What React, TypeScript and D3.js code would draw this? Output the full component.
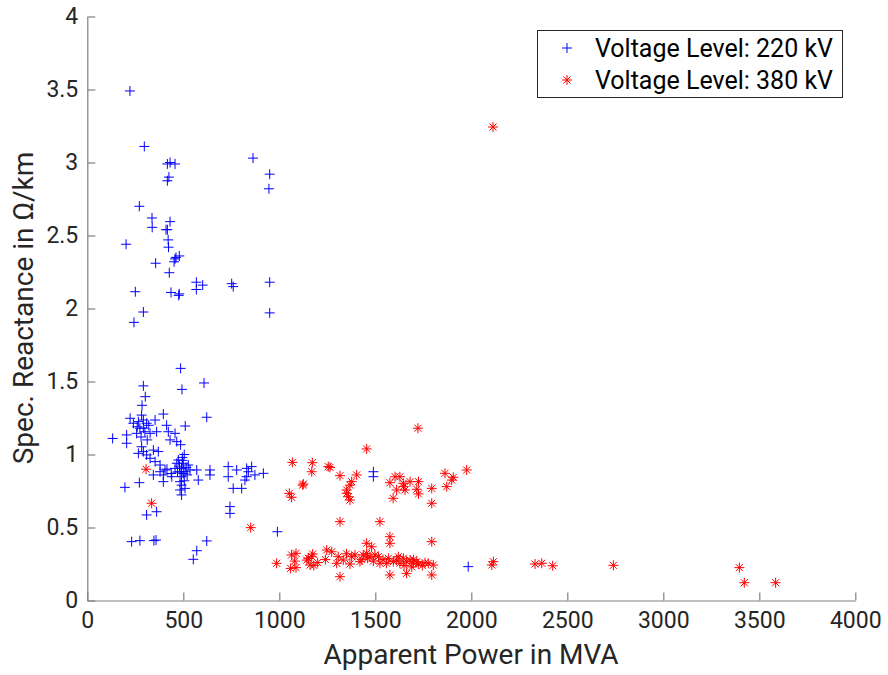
import React, { useEffect, useRef } from "react";
import * as d3 from "d3";

// Voltage Level: 220 kV
const power220 = [222,297,417,431,457,425,417,271,337,338,431,417,410,421,423,202,479,462,863,950,946,457,452,356,427,568,601,568,752,760,950,250,436,479,476,292,243,950,486,292,493,608,302,285,622,396,510,132,223,240,266,292,309,274,257,300,283,353,361,327,413,422,457,431,466,205,205,283,292,266,309,344,370,327,353,379,486,491,466,500,526,483,509,457,535,491,483,509,491,483,491,474,570,578,639,639,405,396,396,344,440,379,196,271,734,734,760,804,778,830,839,873,917,856,821,830,743,309,361,743,231,274,347,358,570,552,622,990,1490,1490,1984,500,480,515,495,470,520,505,495,292,260,320,312,280,437,415,505];
const reactance220 = [3.49,3.11,2.99,3.0,2.99,2.9,2.875,2.7,2.62,2.556,2.595,2.54,2.54,2.47,2.42,2.44,2.36,2.35,3.03,2.92,2.82,2.34,2.32,2.31,2.245,2.18,2.16,2.13,2.17,2.15,2.18,2.115,2.11,2.1,2.09,1.976,1.905,1.97,1.59,1.47,1.446,1.49,1.396,1.337,1.255,1.277,1.195,1.11,1.248,1.214,1.225,1.236,1.214,1.18,1.145,1.156,1.27,1.236,1.156,1.145,1.2,1.156,1.145,1.1,1.088,1.134,1.077,1.053,1.02,1.008,0.997,1.03,1.02,0.974,0.951,0.928,1.067,0.905,0.94,0.94,0.928,0.882,0.882,0.905,0.894,0.848,0.814,0.768,0.79,0.757,0.723,0.962,0.894,0.825,0.894,0.86,0.894,0.86,0.814,0.86,0.848,0.882,0.775,0.807,0.917,0.848,0.768,0.768,0.894,0.905,0.882,0.86,0.871,0.917,0.825,0.848,0.643,0.586,0.608,0.597,0.403,0.41,0.41,0.414,0.341,0.282,0.408,0.471,0.882,0.848,0.232,0.87,0.92,0.91,0.96,0.88,0.86,0.82,0.98,1.18,1.19,1.2,1.1,1.12,0.87,0.9,1.0];

// Voltage Level: 380 kV
const power380 = [2113,306,335,851,1068,1172,1169,1122,1052,1064,1255,986,1064,1087,1059,1087,1151,1174,1160,1247,1455,1125,1264,1316,1403,1377,1368,1351,1360,1368,1351,1603,1576,1628,1646,1681,1725,1716,1725,1611,1655,1593,1646,1794,1794,1863,1906,1898,1872,1976,1316,1524,1455,1481,1576,1576,1794,1143,1169,1273,1307,1333,1377,1394,1437,1455,1472,1498,1516,1524,1568,1594,1628,1663,1698,1724,1776,1802,1316,1576,1663,1794,1299,1368,1420,1559,1611,1646,1681,1716,1759,2115,2107,2332,2367,2424,2740,3396,3422,3585,1722,1460,1490,1540,1650,1700,1745,1620,1350,1240,1200,1430,1690,1180,1080];
const reactance380 = [3.243,0.899,0.666,0.499,0.946,0.944,0.882,0.79,0.734,0.707,0.917,0.255,0.312,0.323,0.22,0.225,0.289,0.318,0.243,0.346,1.038,0.798,0.912,0.855,0.86,0.814,0.79,0.734,0.711,0.688,0.757,0.848,0.807,0.848,0.803,0.814,0.814,0.762,0.73,0.757,0.757,0.7,0.78,0.768,0.666,0.871,0.844,0.825,0.78,0.894,0.54,0.54,0.392,0.368,0.392,0.437,0.403,0.277,0.3,0.334,0.3,0.277,0.3,0.312,0.312,0.323,0.3,0.312,0.3,0.255,0.289,0.266,0.255,0.266,0.255,0.25,0.255,0.243,0.163,0.175,0.186,0.175,0.255,0.25,0.266,0.255,0.277,0.289,0.277,0.266,0.259,0.266,0.243,0.25,0.255,0.238,0.241,0.225,0.122,0.122,1.18,0.29,0.27,0.28,0.24,0.28,0.24,0.3,0.32,0.28,0.26,0.28,0.23,0.24,0.27];

const xTicks = [0, 500, 1000, 1500, 2000, 2500, 3000, 3500, 4000];
const yTicks = [0, 0.5, 1, 1.5, 2, 2.5, 3, 3.5, 4];
const legendLabels = ["Voltage Level: 220 kV", "Voltage Level: 380 kV"];

const W = 888;
const H = 675;
const FONT = "Roboto, 'Noto Sans', sans-serif";
const TEXT_COLOR = "#262626";
const AXIS_COLOR = "#808080";

const plusPath = "M-5,0H5M0,-5V5";
const starPath = "M-5,0H5M0,-5V5M-3.5,-3.5L3.5,3.5M-3.5,3.5L3.5,-3.5";

export default function App() {
  const ref = useRef<SVGSVGElement | null>(null);

  useEffect(() => {
    const svg = d3.select(ref.current);
    svg.selectAll("*").remove();

    const x = d3.scaleLinear().domain([0, 4000]).range([87.3, 855.3]);
    const y = d3.scaleLinear().domain([0, 4]).range([600.5, 16.5]);

    // axes
    const gx = svg.append("g").attr("transform", `translate(0,${y(0)})`)
      .call(d3.axisBottom(x).tickValues(xTicks).tickSizeInner(-8).tickSizeOuter(0).tickPadding(11).tickFormat(d3.format("d")));
    const gy = svg.append("g").attr("transform", `translate(${x(0)},0)`)
      .call(d3.axisLeft(y).tickValues(yTicks).tickSizeInner(-8).tickSizeOuter(0).tickPadding(9).tickFormat((d: any) => String(d)));

    [gx, gy].forEach((g) => {
      g.select(".domain").attr("stroke", AXIS_COLOR).attr("stroke-width", 1.2);
      g.selectAll(".tick line").attr("stroke", AXIS_COLOR).attr("stroke-width", 1.2);
      g.selectAll(".tick text").attr("fill", TEXT_COLOR).attr("font-size", 23).attr("font-family", FONT);
    });
    gx.attr("font-family", FONT);
    gy.attr("font-family", FONT);

    // points
    const d220 = power220.map((p, i) => [p, reactance220[i]]);
    const d380 = power380.map((p, i) => [p, reactance380[i]]);

    svg.append("g").selectAll("path").data(d220).join("path")
      .attr("d", plusPath)
      .attr("transform", (d) => `translate(${x(d[0])},${y(d[1])})`)
      .attr("stroke", "#0000ff").attr("stroke-width", 1).attr("fill", "none");

    svg.append("g").selectAll("path").data(d380).join("path")
      .attr("d", starPath)
      .attr("transform", (d) => `translate(${x(d[0])},${y(d[1])})`)
      .attr("stroke", "#ff0000").attr("stroke-width", 1).attr("fill", "none");

    // axis titles
    svg.append("text").attr("x", 471).attr("y", 664).attr("text-anchor", "middle")
      .attr("font-family", FONT).attr("font-size", 28).attr("fill", TEXT_COLOR)
      .text("Apparent Power in MVA");
    svg.append("text").attr("transform", "translate(33,308) rotate(-90)").attr("text-anchor", "middle")
      .attr("font-family", FONT).attr("font-size", 28).attr("fill", TEXT_COLOR)
      .text("Spec. Reactance in Ω/km");

    // legend
    const lg = svg.append("g");
    lg.append("rect").attr("x", 537.5).attr("y", 30.5).attr("width", 305).attr("height", 67)
      .attr("fill", "white").attr("stroke", TEXT_COLOR).attr("stroke-width", 1);
    const paths = [plusPath, starPath];
    const colors = ["#0000ff", "#ff0000"];
    legendLabels.forEach((lab, i) => {
      const cy = 48 + i * 32;
      lg.append("path").attr("d", paths[i]).attr("transform", `translate(567,${cy})`)
        .attr("stroke", colors[i]).attr("stroke-width", 1).attr("fill", "none");
      lg.append("text").attr("x", 595).attr("y", cy).attr("dy", "0.35em")
        .attr("font-family", FONT).attr("font-size", 25).attr("fill", "#000")
        .text(lab);
    });
  }, []);

  return (
    <svg ref={ref} width={W} height={H}
      style={{ position: "absolute", left: 0, top: 0, background: "white" }} />
  );
}
